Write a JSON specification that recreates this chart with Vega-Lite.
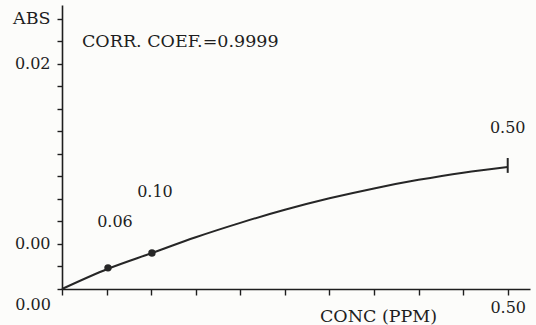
{
  "$schema": "https://vega.github.io/schema/vega-lite/v6.json",
  "width": 468,
  "height": 284,
  "autosize": "none",
  "padding": {"left": 62, "top": 5, "right": 6, "bottom": 36},
  "background": "#fcfcfa",
  "config": {
    "view": {"stroke": null},
    "font": "DejaVu Serif",
    "text": {"font": "DejaVu Serif", "color": "#1e1e1e"}
  },
  "datasets": {
    "curve": [
      {"conc": 0, "abs": 0},
      {"conc": 0.0516, "abs": 0.9},
      {"conc": 0.1009, "abs": 1.6},
      {"conc": 0.15, "abs": 2.3},
      {"conc": 0.2, "abs": 2.94},
      {"conc": 0.25, "abs": 3.52},
      {"conc": 0.3, "abs": 4.03},
      {"conc": 0.35, "abs": 4.47},
      {"conc": 0.4, "abs": 4.85},
      {"conc": 0.45, "abs": 5.17},
      {"conc": 0.5, "abs": 5.42}
    ],
    "points": [
      {"conc": 0.0516, "abs": 0.94},
      {"conc": 0.1009, "abs": 1.6}
    ],
    "cap": [{"conc": 0.5, "lo": 5.16, "hi": 5.82}],
    "labels": [
      {"conc": 0.0594, "abs": 2.98, "label": "0.06"},
      {"conc": 0.1043, "abs": 4.31, "label": "0.10"},
      {"conc": 0.5, "abs": 7.16, "label": "0.50"},
      {"conc": -0.0325, "abs": -0.71, "label": "0.00"}
    ],
    "note": [{"conc": 0.0224, "abs": 10.98, "label": "CORR. COEF.=0.9999"}]
  },
  "encoding": {
    "x": {
      "field": "conc",
      "type": "quantitative",
      "scale": {"domain": [0, 0.525], "nice": false, "zero": false},
      "axis": {
        "values": [0, 0.05, 0.1, 0.15, 0.2, 0.25, 0.3, 0.35, 0.4, 0.45, 0.5],
        "labelExpr": "datum.value > 0.49 ? '0.50' : ''",
        "grid": false,
        "domainColor": "#1e1e1e",
        "domainWidth": 1.6,
        "tickColor": "#1e1e1e",
        "tickWidth": 1.4,
        "tickSize": 6,
        "labelFont": "DejaVu Serif",
        "labelFontSize": 16,
        "labelColor": "#1e1e1e",
        "labelPadding": 4,
        "title": "CONC (PPM)",
        "titleFont": "DejaVu Serif",
        "titleFontSize": 17.5,
        "titleFontWeight": "normal",
        "titleColor": "#1e1e1e",
        "titleX": 316,
        "titleY": 27,
        "titleAlign": "center",
        "titleBaseline": "middle"
      }
    },
    "y": {
      "field": "abs",
      "type": "quantitative",
      "scale": {"domain": [0, 12.62], "nice": false, "zero": false},
      "axis": {
        "values": [0, 1, 2, 3, 4, 5, 6, 7, 8, 9, 10, 11, 12],
        "labelExpr": "datum.value == 2 ? '0.00' : datum.value == 10 ? '0.02' : datum.value == 12 ? 'ABS' : ''",
        "grid": false,
        "domainColor": "#1e1e1e",
        "domainWidth": 1.6,
        "tickColor": "#1e1e1e",
        "tickWidth": 1.4,
        "tickSize": 5,
        "labelFont": "DejaVu Serif",
        "labelFontSize": {"condition": {"test": "datum.value == 12", "value": 17.5}, "value": 16},
        "labelColor": "#1e1e1e",
        "labelPadding": 7,
        "title": null
      }
    }
  },
  "layer": [
    {
      "data": {"name": "curve"},
      "mark": {"type": "line", "interpolate": "monotone", "color": "#262626", "strokeWidth": 2}
    },
    {
      "data": {"name": "points"},
      "mark": {"type": "point", "filled": true, "color": "#262626", "size": 55, "opacity": 1}
    },
    {
      "data": {"name": "cap"},
      "mark": {"type": "rule", "color": "#262626", "strokeWidth": 2},
      "encoding": {
        "y": {"field": "lo", "type": "quantitative"},
        "y2": {"field": "hi"}
      }
    },
    {
      "data": {"name": "labels"},
      "mark": {"type": "text", "fontSize": 16, "align": "center", "baseline": "middle"},
      "encoding": {"text": {"field": "label"}}
    },
    {
      "data": {"name": "note"},
      "mark": {"type": "text", "fontSize": 17.5, "align": "left", "baseline": "middle"},
      "encoding": {"text": {"field": "label"}}
    }
  ]
}
